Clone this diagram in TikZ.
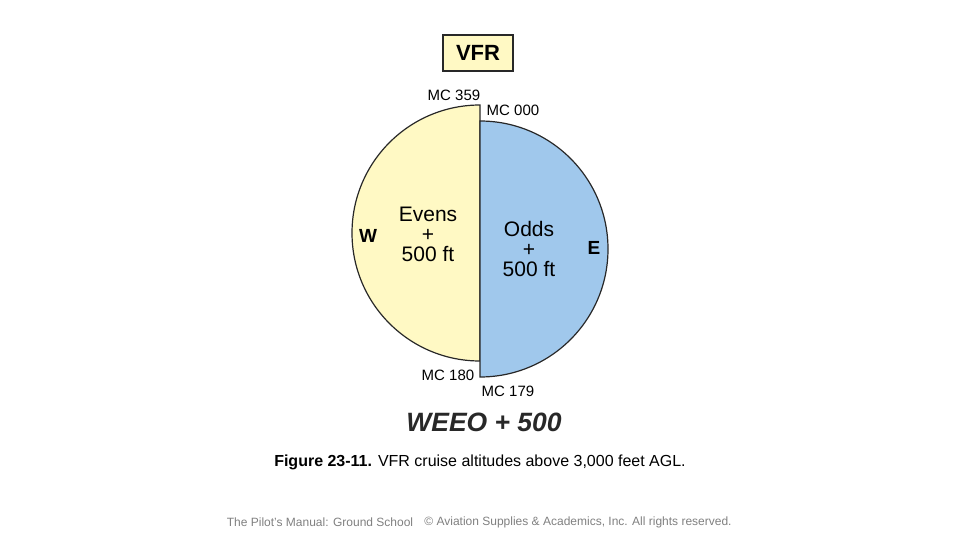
\documentclass[tikz,border=0pt]{standalone}
\usepackage{fontspec}
\setmainfont{Liberation Sans}
\begin{document}
\begin{tikzpicture}[x=1pt,y=-1pt,
  lbl/.style={inner sep=0pt,font=\fontsize{15}{17}\selectfont},
  big/.style={inner sep=0pt,align=center,font=\fontsize{21}{20}\selectfont}]
\useasboundingbox (0,0) rectangle (960,540);
\definecolor{ylw}{RGB}{255,249,196}
\definecolor{blu}{RGB}{160,200,236}
\definecolor{edge}{RGB}{40,40,40}
\node[draw=edge,line width=1.2pt,fill=ylw,minimum width=70pt,minimum height=36pt,inner sep=0pt,font=\fontsize{22}{22}\selectfont\bfseries] (vfr) at (478,53) {VFR};
\draw[edge,line width=1.2pt,fill=ylw] (480,105) arc[start angle=270,end angle=90,radius=128] -- cycle;
\draw[edge,line width=1.2pt,fill=blu] (480,121) arc[start angle=270,end angle=450,radius=128] -- cycle;
\node[lbl] (n359) at (454,95) {MC 359};
\node[lbl] (n000) at (513,110) {MC 000};
\node[lbl] (n180) at (448,375) {MC 180};
\node[lbl] (n179) at (508,391) {MC 179};
\node[big] (ev) at (428,234) {Evens\\+\\500 ft};
\node[big] (od) at (529,249) {Odds\\+\\500 ft};
\node[big,font=\fontsize{19}{20}\selectfont\bfseries] (w) at (368,236) {W};
\node[big,font=\fontsize{19}{20}\selectfont\bfseries] (e) at (594,248) {E};
\node[inner sep=0pt,font=\fontsize{26.5}{28}\selectfont\bfseries\itshape,text=edge] (weeo) at (484,422) {WEEO + 500};
\node[inner sep=0pt,font=\fontsize{16}{18}\selectfont] (cap) at (480,462) {\textbf{Figure 23-11.} VFR cruise altitudes above 3,000 feet AGL.};
\node[inner sep=0pt,font=\fontsize{12}{13}\selectfont,text=gray] (f1) at (320,522) {The Pilot's Manual: Ground School};
\node[inner sep=0pt,font=\fontsize{12}{13}\selectfont,text=gray] (f2) at (578,522) {© Aviation Supplies \& Academics, Inc. All rights reserved.};
\end{tikzpicture}
\end{document}
